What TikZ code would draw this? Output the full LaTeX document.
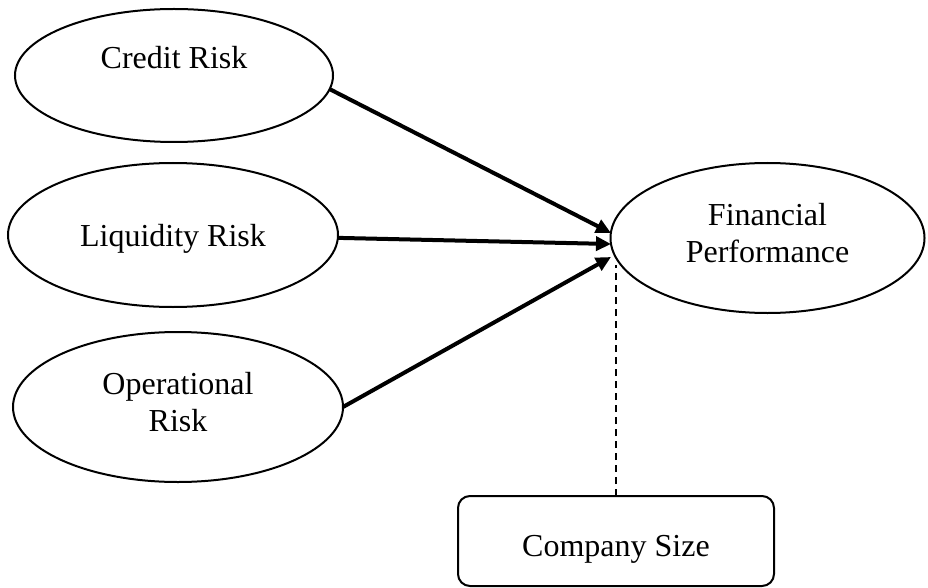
\documentclass[tikz,border=0pt]{standalone}
\usepackage{fontspec}
\setmainfont{Liberation Serif}
\usetikzlibrary{shapes.geometric,arrows.meta}
\begin{document}
\begin{tikzpicture}[x=1pt,y=-1pt,
  lat/.style={ellipse,draw,line width=2pt,inner sep=0pt,outer sep=0pt,align=center,font=\fontsize{32}{37}\selectfont},
  ctrl/.style={draw,rounded corners=12pt,line width=2pt,inner sep=0pt,outer sep=0pt,font=\fontsize{32}{37}\selectfont},
  conn/.style={line width=4pt,-{Triangle[length=15pt,width=14pt]}},
  modline/.style={line width=1.8pt,dash pattern=on 7pt off 5pt}]
\useasboundingbox (0,0) rectangle (928,588);
\node[lat,minimum width=318pt,minimum height=133pt] (cr) at (174,75.5) {Credit Risk\\~};
\node[lat,minimum width=330pt,minimum height=144pt,text depth=0pt] (lr) at (173,235) {Liquidity Risk};
\node[lat,minimum width=330pt,minimum height=150pt,text depth=10pt] (or) at (178,407) {Operational\\Risk};
\node[lat,minimum width=314pt,minimum height=150pt,text depth=10pt] (fp) at (767.5,238) {Financial\\Performance};
\node[ctrl,minimum width=316pt,minimum height=90pt,text height=37pt,text depth=7pt] (cs) at (616,541) {Company Size};
\coordinate (t1) at (611,233);
\coordinate (t2) at (611,244);
\coordinate (t3) at (611,257);
\coordinate (m) at (616,265);
\draw[conn] (cr.-5) -- (t1);
\draw[conn] (lr.-1.5) -- (t2);
\draw[conn] (or.east) -- (t3);
\draw[modline] (cs.north) -- (m);
\end{tikzpicture}
\end{document}
